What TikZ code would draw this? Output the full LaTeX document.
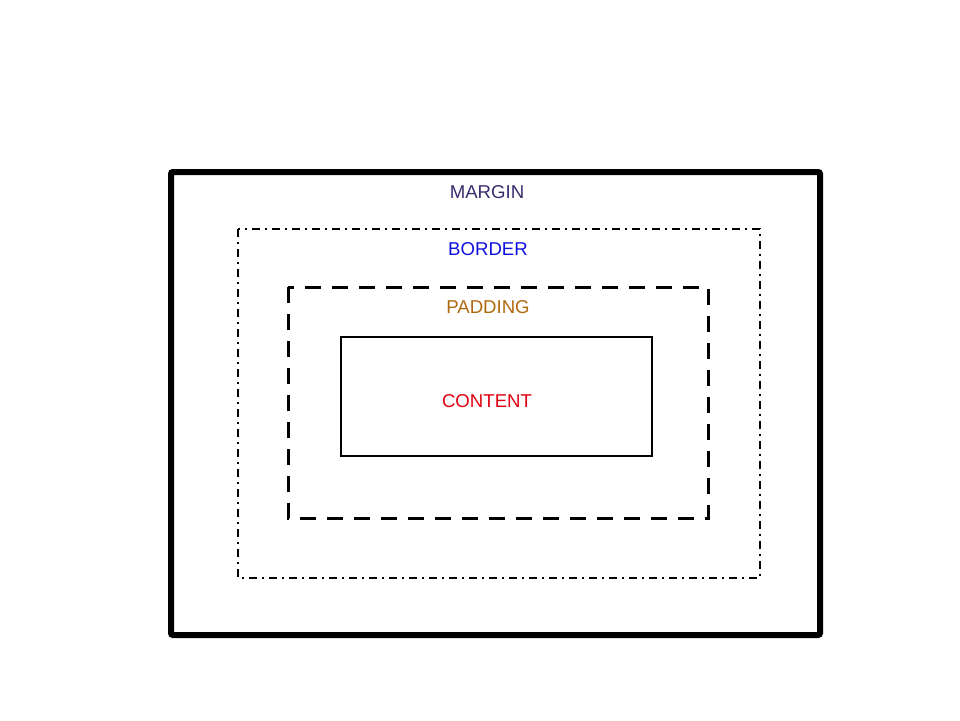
\documentclass[tikz,border=0pt]{standalone}
\usepackage{fontspec}
\setmainfont{Liberation Sans}
\definecolor{margincol}{HTML}{3A2A6E}
\definecolor{bordercol}{HTML}{1010DD}
\definecolor{paddingcol}{HTML}{B0680E}
\definecolor{contentcol}{HTML}{E00010}
\tikzset{
  lbl/.style={font=\fontsize{18.6}{20}\selectfont, inner sep=0pt, anchor=center},
  marginbox/.style={line width=6pt, rounded corners=2pt},
  borderbox/.style={line width=1.8pt, dash pattern=on 8pt off 5pt on 2pt off 5pt},
  paddingbox/.style={line width=3pt, dash pattern=on 16pt off 11pt},
  contentbox/.style={line width=2.6pt}
}
\begin{document}
\begin{tikzpicture}[x=1pt,y=-1pt]
\useasboundingbox (0,0) rectangle (960,720);
\draw[marginbox] (171,172) rectangle (820,635);
\draw[borderbox] (238,229) rectangle (760,578);
\draw[paddingbox] (288,287) rectangle (708,518);
\draw[contentbox] (341,337) rectangle (652,456);
\node[lbl, text=margincol] (margin) at (487,192) {MARGIN};
\node[lbl, text=bordercol] (border) at (488,249) {BORDER};
\node[lbl, text=paddingcol] (padding) at (488,307) {PADDING};
\node[lbl, text=contentcol] (content) at (487,401) {CONTENT};
\end{tikzpicture}
\end{document}
